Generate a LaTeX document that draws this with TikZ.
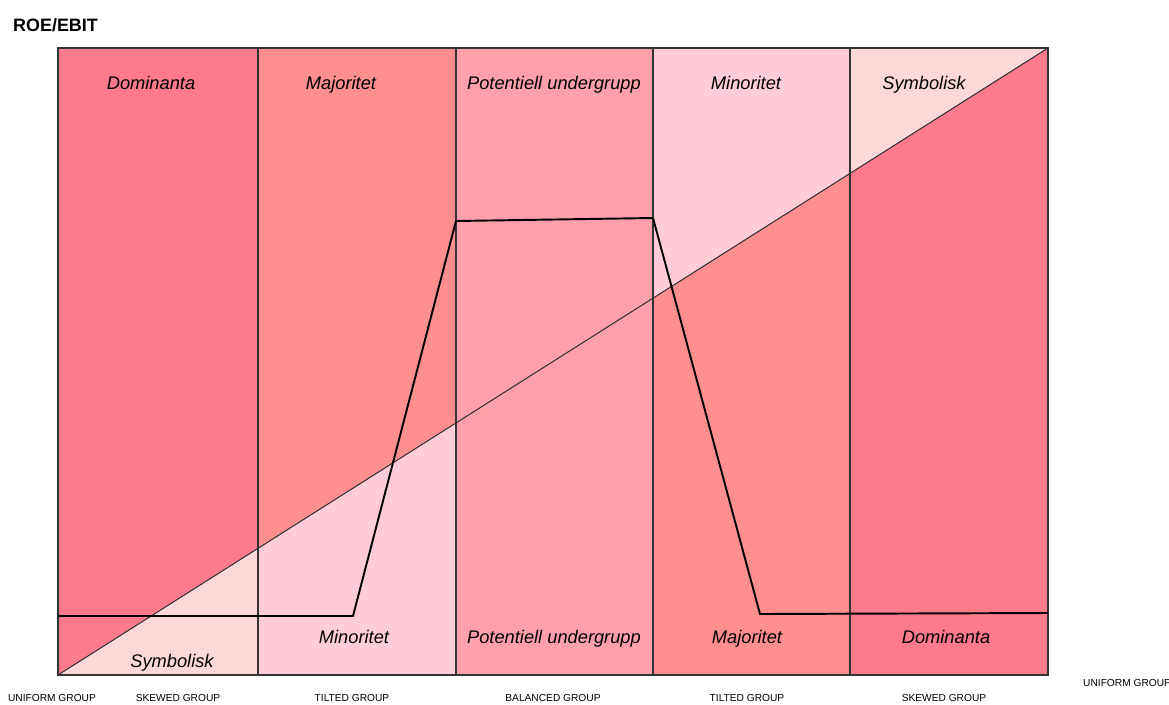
\documentclass[tikz,border=0pt]{standalone}
\usepackage{fontspec}
\setmainfont{Liberation Sans}
\usetikzlibrary{positioning}

\definecolor{dominant}{HTML}{FF7B8B}
\definecolor{major}{HTML}{FF8E8E}
\definecolor{potential}{HTML}{FFA0AB}
\definecolor{minor}{HTML}{FFCCD8}
\definecolor{symbolic}{HTML}{FDD8D8}

\tikzset{
  zone/.style={font=\fontsize{10.4}{12}\selectfont\itshape,text height=1.6ex,text depth=.45ex},
  group/.style={font=\fontsize{5.8}{7}\selectfont},
  grid/.style={draw=black!80,line width=0.6pt},
}

\begin{document}
\begin{tikzpicture}[x=0.02cm,y=-0.02cm]
  \useasboundingbox (0,0) rectangle (1169,704);
  % Spalter ovanfor diagonalen
  \fill[dominant]  (58,48)  rectangle (258,675);
  \fill[major]     (258,48) rectangle (456,675);
  \fill[potential] (456,48) rectangle (653,675);
  \fill[minor]     (653,48) rectangle (850,675);
  \fill[symbolic]  (850,48) rectangle (1048,675);
  % Spalter nedanfor diagonalen
  \begin{scope}
    \clip (58,675) -- (1048,48) -- (1048,675) -- cycle;
    \fill[symbolic]  (58,48)  rectangle (258,675);
    \fill[minor]     (258,48) rectangle (456,675);
    \fill[major]     (653,48) rectangle (850,675);
    \fill[dominant]  (850,48) rectangle (1048,675);
  \end{scope}
  % Ram och spaltgranser
  \draw[grid] (58,48) rectangle (1048,675);
  \foreach \x in {258,456,653,850}
    \draw[grid] (\x,48) -- (\x,675);
  % Diagonal
  \draw[grid] (58,675) -- (1048,48);
  % Gransen mellan ovre och undre del
  \draw[line width=1.1pt,line join=miter] (58,616) -- (353,616) -- (456,221)
    -- (653,218) -- (760,614) -- (1048,613);
  % Rubrik
  \node[anchor=west,font=\fontsize{10.2}{12}\selectfont\bfseries] (title) at (7,25) {ROE/EBIT};
  % Ovre etiketter
  \node[zone] (topa) at (151,84) {Dominanta};
  \node[zone] (topb) at (341,84) {Majoritet};
  \node[zone] (topc) at (554,84) {Potentiell undergrupp};
  \node[zone] (topd) at (746,84) {Minoritet};
  \node[zone] (tope) at (924,84) {Symbolisk};
  % Undre etiketter
  \node[zone] (bota) at (172,662) {Symbolisk};
  \node[zone] (botb) at (354,638) {Minoritet};
  \node[zone] (botc) at (554,638) {Potentiell undergrupp};
  \node[zone] (botd) at (747,638) {Majoritet};
  \node[zone] (bote) at (946,638) {Dominanta};
  % Grupper
  \node[group] (ga) at (52,698) {UNIFORM GROUP};
  \node[group] (gb) at (178,698) {SKEWED GROUP};
  \node[group] (gc) at (352,698) {TILTED GROUP};
  \node[group] (gd) at (553,698) {BALANCED GROUP};
  \node[group] (ge) at (747,698) {TILTED GROUP};
  \node[group] (gf) at (944,698) {SKEWED GROUP};
  \node[group,anchor=west] (gg) at (1077,683) {UNIFORM GROUP};
\end{tikzpicture}
\end{document}
